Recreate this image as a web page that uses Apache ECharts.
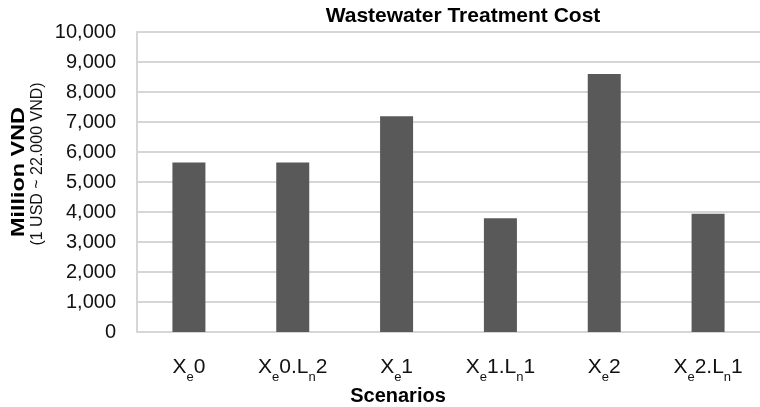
<!DOCTYPE html>
<html>
<head>
<meta charset="utf-8">
<script src="https://cdn.jsdelivr.net/npm/echarts@6/dist/echarts.min.js"></script>
<style>html,body{margin:0;padding:0;background:#fff;}#c{width:760px;height:407px;}</style>
</head>
<body>
<div id="c"></div>
<script>
var categories = ['Xe0', 'Xe0.Ln2', 'Xe1', 'Xe1.Ln1', 'Xe2', 'Xe2.Ln1'];
var costValues = [5650, 5650, 7190, 3790, 8600, 3940];
var yTicks = { min: 0, max: 10000, interval: 1000 };
var chartTitle = 'Wastewater Treatment Cost';
var yTitle = 'Million VND';
var ySubTitle = '(1 USD ~ 22.000 VND)';
var xTitle = 'Scenarios';

function richLabel(v) {
  var out = '';
  for (var i = 0; i < v.length; i++) {
    var ch = v[i];
    var sub = (ch === 'e' || ch === 'n') && i > 0 && (v[i-1] === 'X' || v[i-1] === 'L');
    out += (sub ? '{s|' : '{b|') + ch + '}';
  }
  return out;
}

var chart = echarts.init(document.getElementById('c'), null, {renderer: 'canvas'});
var font = 'Liberation Sans, Arial, sans-serif';
chart.setOption({
  animation: false,
  backgroundColor: '#ffffff',
  grid: { left: 137, top: 32, width: 629, height: 300 },
  xAxis: {
    type: 'category',
    data: categories,
    axisLine: { show: true, lineStyle: { color: '#d6d6d6', width: 2 } },
    axisTick: { show: false },
    axisLabel: {
      margin: 25,
      interval: 0,
      formatter: richLabel,
      rich: {
        b: { fontSize: 21, fontFamily: font, color: '#111', lineHeight: 21, verticalAlign: 'top' },
        s: { fontSize: 13, fontFamily: font, color: '#111', lineHeight: 13, padding: [14, 0, 0, 0], verticalAlign: 'top' }
      }
    }
  },
  yAxis: {
    type: 'value',
    min: yTicks.min, max: yTicks.max, interval: yTicks.interval,
    axisLine: { show: true, lineStyle: { color: '#d6d6d6', width: 2 } },
    axisTick: { show: false },
    splitLine: { show: true, lineStyle: { color: '#d6d6d6', width: 2 } },
    axisLabel: {
      margin: 21,
      fontSize: 20,
      fontFamily: font,
      color: '#111',
      formatter: function (v) { return v.toLocaleString('en-US'); }
    }
  },
  series: [{
    type: 'bar',
    data: costValues,
    barWidth: 33,
    itemStyle: { color: '#595959' }
  }],
  graphic: [
    { type: 'text', x: 463, y: 16, style: { text: chartTitle, font: 'bold 21px ' + font, fill: '#000', align: 'center', verticalAlign: 'middle' } },
    { type: 'text', x: 398, y: 396, style: { text: xTitle, font: 'bold 20px ' + font, fill: '#000', align: 'center', verticalAlign: 'middle' } },
    { type: 'text', x: 19, y: 172, rotation: Math.PI / 2, scaleX: 1.3, style: { text: yTitle, font: 'bold 18px ' + font, fill: '#000', align: 'center', verticalAlign: 'middle' } },
    { type: 'text', x: 38, y: 164, rotation: Math.PI / 2, style: { text: ySubTitle, font: '16px ' + font, fill: '#111', align: 'center', verticalAlign: 'middle' } }
  ]
});
</script>
</body>
</html>
